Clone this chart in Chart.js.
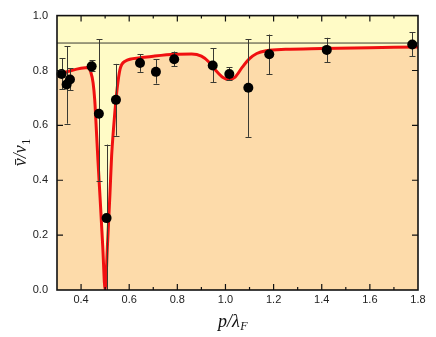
<!DOCTYPE html>
<html><head><meta charset="utf-8">
<script src="https://cdn.jsdelivr.net/npm/chart.js@4"></script>
<style>html,body{margin:0;padding:0;background:#fff}#wrap{width:436px;height:337px;position:relative}</style>
</head><body><div id="wrap"><canvas id="c" width="436" height="337"></canvas></div>
<script>
// ---- data ----
const curveX = [0.300,0.330,0.360,0.400,0.430,0.440,0.450,0.457,0.462,0.470,0.480,0.490,0.500,0.510,0.520,0.527,0.535,0.541,0.550,0.562,0.583,0.645,0.700,0.790,0.860,0.900,0.930,0.960,0.990,1.015,1.040,1.070,1.100,1.130,1.170,1.250,1.400,1.600,1.800];
const curveY = [0.779,0.792,0.800,0.808,0.811,0.795,0.755,0.690,0.610,0.475,0.320,0.160,0.000,0.170,0.350,0.490,0.590,0.655,0.735,0.805,0.834,0.846,0.852,0.859,0.860,0.852,0.832,0.800,0.774,0.767,0.776,0.812,0.843,0.862,0.872,0.877,0.880,0.883,0.886];
const pointX  = [0.319,0.340,0.354,0.444,0.474,0.506,0.545,0.645,0.711,0.787,0.947,1.016,1.095,1.182,1.421,1.776];
const pointY  = [0.787,0.749,0.767,0.815,0.642,0.262,0.693,0.827,0.795,0.841,0.818,0.787,0.737,0.859,0.875,0.895];
const errLow  = [0.731,0.606,0.729,0.797,0.398,0.000,0.562,0.795,0.752,0.815,0.757,0.767,0.558,0.787,0.830,0.851];
const errHigh = [0.845,0.889,0.809,0.838,0.914,0.530,0.824,0.859,0.841,0.869,0.881,0.812,0.914,0.931,0.919,0.940];
const refLineY = 0.9;
const xRange = [0.3, 1.8];
const yRange = [0.0, 1.0];
const xMajorTicks = [0.4,0.6,0.8,1.0,1.2,1.4,1.6,1.8];
const xMinorTicks = [0.5,0.7,0.9,1.1,1.3,1.5,1.7];
const yMajorTicks = [0.0,0.2,0.4,0.6,0.8,1.0];

const YELLOW = '#FFFBC6';
const PEACH = '#FDDBAA';

const bgPlugin = {
  id: 'bg',
  beforeDraw(chart) {
    const {ctx, chartArea: a} = chart;
    ctx.save(); ctx.fillStyle = YELLOW;
    ctx.fillRect(a.left, a.top, a.right - a.left, a.bottom - a.top);
    ctx.restore();
  }
};

const errPlugin = {
  id: 'errbars',
  beforeDatasetDraw(chart, args) {
    if (args.index !== 2) return;
    const {ctx} = chart, xs = chart.scales.x, ys = chart.scales.y;
    ctx.save();
    ctx.strokeStyle = '#3a3a32'; ctx.lineWidth = 1;
    for (let i = 0; i < pointX.length; i++) {
      const px = Math.round(xs.getPixelForValue(pointX[i])) + 0.5;
      const y1 = ys.getPixelForValue(errLow[i]);
      const y2 = ys.getPixelForValue(errHigh[i]);
      ctx.beginPath();
      ctx.moveTo(px, y1); ctx.lineTo(px, y2);
      ctx.moveTo(px - 3, Math.round(y2) + 0.5); ctx.lineTo(px + 3, Math.round(y2) + 0.5);
      if (errLow[i] > yRange[0]) { ctx.moveTo(px - 3, Math.round(y1) + 0.5); ctx.lineTo(px + 3, Math.round(y1) + 0.5); }
      ctx.stroke();
    }
    ctx.restore();
  }
};

const framePlugin = {
  id: 'frame',
  afterDraw(chart) {
    const {ctx, chartArea: a} = chart, xs = chart.scales.x, ys = chart.scales.y;
    ctx.save();
    ctx.strokeStyle = '#111'; ctx.lineWidth = 1.2;
    ctx.beginPath();
    const tick = (vals, len) => {
      vals.forEach(v => {
        const px = xs.getPixelForValue(v);
        ctx.moveTo(px, a.bottom); ctx.lineTo(px, a.bottom - len);
        ctx.moveTo(px, a.top); ctx.lineTo(px, a.top + len);
      });
    };
    tick(xMajorTicks.filter(v => v < xRange[1]), 6);
    tick(xMinorTicks, 3);
    yMajorTicks.filter(v => v > yRange[0] && v < yRange[1]).forEach(v => {
      const py = ys.getPixelForValue(v);
      ctx.moveTo(a.left, py); ctx.lineTo(a.left + 6, py);
      ctx.moveTo(a.right, py); ctx.lineTo(a.right - 6, py);
    });
    ctx.stroke();
    ctx.lineWidth = 1.6;
    ctx.strokeRect(a.left, a.top, a.right - a.left, a.bottom - a.top);
    // axis labels
    ctx.fillStyle = '#111';
    ctx.textBaseline = 'alphabetic';
    // x label  p/λ_F
    const xl = 'p/λ', xs2 = 'F';
    ctx.font = 'italic 18px "Liberation Serif", serif';
    const w1 = ctx.measureText(xl).width;
    ctx.font = 'italic 12px "Liberation Serif", serif';
    const w2 = ctx.measureText(xs2).width;
    const cx = (a.left + a.right) / 2 - 5;
    const x0 = cx - (w1 + w2) / 2, by = 327;
    ctx.font = 'italic 18px "Liberation Serif", serif';
    ctx.fillText(xl, x0, by);
    ctx.font = 'italic 12px "Liberation Serif", serif';
    ctx.fillText(xs2, x0 + w1 + 0.5, by + 3);
    // y label  v̄/v_1
    ctx.translate(26, (a.top + a.bottom) / 2);
    ctx.rotate(-Math.PI / 2);
    const yl = 'v̄/v', ys1 = '1';
    ctx.font = 'italic 18px "Liberation Serif", serif';
    const yw1 = ctx.measureText(yl).width;
    ctx.font = '12px "Liberation Serif", serif';
    const yw2 = ctx.measureText(ys1).width;
    const y0 = -(yw1 + yw2) / 2;
    ctx.font = 'italic 18px "Liberation Serif", serif';
    ctx.fillText(yl, y0, 0);
    ctx.font = '12px "Liberation Serif", serif';
    ctx.fillText(ys1, y0 + yw1 + 0.5, 4);
    ctx.restore();
  }
};

const tickFont = {family: '"Liberation Sans", Arial, sans-serif', size: 11};

new Chart(document.getElementById('c'), {
  type: 'scatter',
  data: {
    datasets: [
      {
        type: 'line', label: 'fit',
        data: curveX.map((x, i) => ({x, y: curveY[i]})),
        borderColor: '#F01010', borderWidth: 3,
        backgroundColor: PEACH, fill: 'origin',
        pointRadius: 0, cubicInterpolationMode: 'monotone', order: 3
      },
      {
        type: 'line', label: 'ref',
        data: [{x: xRange[0], y: refLineY}, {x: xRange[1], y: refLineY}],
        borderColor: '#3a3a32', borderWidth: 1, pointRadius: 0, fill: false, order: 2
      },
      {
        type: 'scatter', label: 'data',
        data: pointX.map((x, i) => ({x, y: pointY[i]})),
        backgroundColor: '#000', borderColor: '#000', pointRadius: 5, pointBorderWidth: 0,
        clip: false, order: 1
      }
    ]
  },
  options: {
    responsive: false, animation: false,
    layout: {padding: {top: 10, right: 18, left: 0, bottom: 0}},
    plugins: {legend: {display: false}, tooltip: {enabled: false}},
    scales: {
      x: {
        type: 'linear', min: xRange[0], max: xRange[1],
        afterBuildTicks: s => { s.ticks = xMajorTicks.map(v => ({value: v})); },
        afterFit: s => { s.height = 47; },
        ticks: {callback: v => v.toFixed(1), font: tickFont, color: '#222', padding: 3, maxRotation: 0, autoSkip: false},
        grid: {display: false, drawTicks: false}, border: {display: false}
      },
      y: {
        type: 'linear', min: yRange[0], max: yRange[1],
        afterBuildTicks: s => { s.ticks = yMajorTicks.map(v => ({value: v})); },
        afterFit: s => { s.width = 57; },
        ticks: {callback: v => v.toFixed(1), font: tickFont, color: '#222', padding: 9, autoSkip: false},
        grid: {display: false, drawTicks: false}, border: {display: false}
      }
    }
  },
  plugins: [bgPlugin, errPlugin, framePlugin]
});
</script></body></html>
